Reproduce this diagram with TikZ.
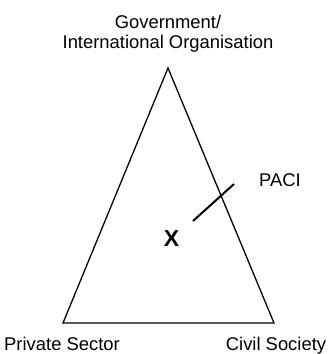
\documentclass[tikz,border=0pt]{standalone}
\usepackage{fontspec}
\setmainfont{Liberation Sans}
\usetikzlibrary{positioning}

\tikzset{lbl/.style={anchor=base,inner sep=0pt,font=\fontsize{18.4}{22}\selectfont}}

\begin{document}
\begin{tikzpicture}[x=1pt,y=-1pt]
		\useasboundingbox (0,0) rectangle (330,354);
		\coordinate (gov) at (168,68);
		\coordinate (priv) at (63,323);
		\coordinate (civ) at (274,323);
		\draw[line width=1.3pt,line join=miter] (gov) -- (priv) -- (civ) -- cycle;
		\node[lbl] (govtxt) at (168,28) {Government/};
		\node[lbl] (inttxt) at (168,48) {International Organisation};
		\node[lbl] (privtxt) at (62,350) {Private Sector};
		\node[lbl] (civtxt) at (276,350) {Civil Society};
		\node[lbl] (pacitxt) at (280,186.7) {PACI};
		\node[lbl,font=\fontsize{23}{26}\selectfont\bfseries] (x) at (171.5,246) {X};
		\coordinate (pacia) at (193,221);
		\coordinate (pacib) at (234,184);
		\draw[line width=2pt] (pacia) -- (pacib);
	\end{tikzpicture}
\end{document}
